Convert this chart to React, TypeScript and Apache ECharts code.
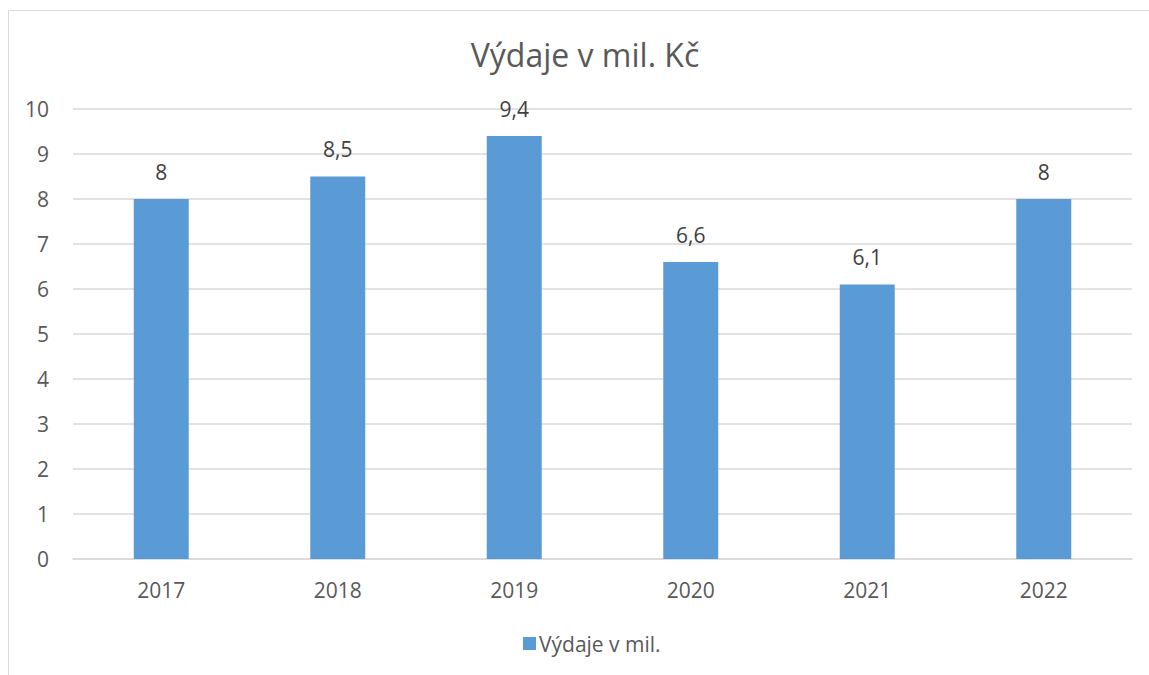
import React, { useEffect, useRef } from "react";
import * as echarts from "echarts";

const categories = ["2017", "2018", "2019", "2020", "2021", "2022"];
const values = [8, 8.5, 9.4, 6.6, 6.1, 8];
const seriesName = "Výdaje v mil.";
const titleText = "Výdaje v mil. Kč";

export default function App() {
  const ref = useRef<HTMLDivElement>(null);
  useEffect(() => {
    if (!ref.current) return;
    const chart = echarts.init(ref.current, null, { renderer: "svg" });
    const font = "'Open Sans', 'Noto Sans', sans-serif";
    chart.setOption({
      animation: false,
      backgroundColor: "#ffffff",
      textStyle: { fontFamily: font },
      title: {
        text: titleText,
        left: 580,
        textAlign: "center",
        top: 33,
        textStyle: { fontFamily: font, fontSize: 32, fontWeight: "normal", color: "#595959" },
      },
      graphic: [
        {
          type: "rect",
          shape: { x: 8.5, y: 10.5, width: 1200, height: 700 },
          style: { fill: "none", stroke: "#D9D9D9", lineWidth: 1 },
          silent: true,
        },
      ],
      legend: {
        data: [seriesName],
        bottom: 16,
        left: 518,
        icon: "rect",
        itemWidth: 13,
        itemHeight: 13,
        itemGap: 6,
        textStyle: { fontFamily: font, fontSize: 21, color: "#595959", padding: [0, 0, 0, -2] },
      },
      grid: { left: 73, right: 17, top: 109, bottom: 116 },
      xAxis: {
        type: "category",
        data: categories,
        axisLine: { lineStyle: { color: "#D9D9D9", width: 1.5 } },
        axisTick: { show: false },
        axisLabel: { fontFamily: font, fontSize: 21, color: "#595959", margin: 20 },
      },
      yAxis: {
        type: "value",
        min: 0,
        max: 10,
        interval: 1,
        axisLine: { show: false },
        axisTick: { show: false },
        splitLine: { lineStyle: { color: "#D9D9D9", width: 1.5 } },
        axisLabel: { fontFamily: font, fontSize: 21, color: "#595959", margin: 24 },
      },
      series: [
        {
          name: seriesName,
          type: "bar",
          data: values,
          barWidth: 55,
          itemStyle: { color: "#5B9BD5" },
          label: {
            show: true,
            position: "top",
            distance: 17,
            fontFamily: font,
            fontSize: 21,
            color: "#404040",
            formatter: (p: any) => String(p.value).replace(".", ","),
          },
        },
      ],
    });
    return () => chart.dispose();
  }, []);
  return (
    <div
      ref={ref}
      style={{ position: "fixed", left: 0, top: 0, width: 1149, height: 675 }}
    />
  );
}
